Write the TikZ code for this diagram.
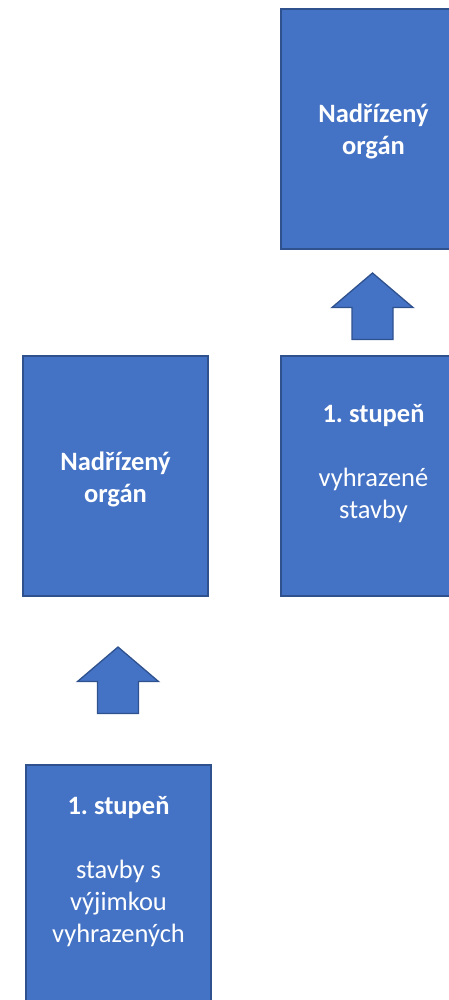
\documentclass[tikz,border=0pt]{standalone}
\usepackage{fontspec}
\setmainfont{Carlito}
\usetikzlibrary{positioning}
\definecolor{boxblue}{RGB}{68,114,196}
\definecolor{boxedge}{RGB}{47,82,143}
\frenchspacing

\begin{document}
\begin{tikzpicture}[x=1pt, y=-1pt,
    box/.style={draw=boxedge,fill=boxblue,line width=1.3pt,minimum width=185pt,minimum height=240pt,inner sep=0pt},
    lbl/.style={text=white,align=center,inner sep=0pt,font=\fontsize{26.5}{32}\selectfont},
    uparr/.style={draw=boxedge,fill=boxblue,line width=1.3pt,line join=miter}]
\useasboundingbox (0,0) rectangle (449,1000);
\clip (0,0) rectangle (449,1000);
% boxes
\node[box] (organTop) at (373.5,129) {};
\node[box] (stupenR) at (373.5,476) {};
\node[box] (organL) at (115.5,476) {};
\node[box] (stupenL) at (118.5,885) {};
% texts
\node[lbl] (organTopTxt) at (373.5,131) {\textbf{Nadřízený}\\\textbf{orgán}};
\node[lbl] (organLTxt) at (115.5,479) {\textbf{Nadřízený}\\\textbf{orgán}};
\node[lbl] (stupenRTxt) at (373.5,464) {\textbf{1. stupeň}\\[32pt]vyhrazené\\stavby};
\node[lbl] (stupenLTxt) at (118.5,872) {\textbf{1. stupeň}\\[32pt]stavby s\\výjimkou\\vyhrazených};
% block arrows
\coordinate (tipR) at (372.5,273);
\coordinate (tipL) at (118,647);
\foreach \t in {tipR,tipL} {
    \draw[uparr] (\t) -- ++(40.5,34.5) -- ++(-20,0) -- ++(0,32) -- ++(-41,0) -- ++(0,-32) -- ++(-20,0) -- cycle;
}
\end{tikzpicture}
\end{document}
